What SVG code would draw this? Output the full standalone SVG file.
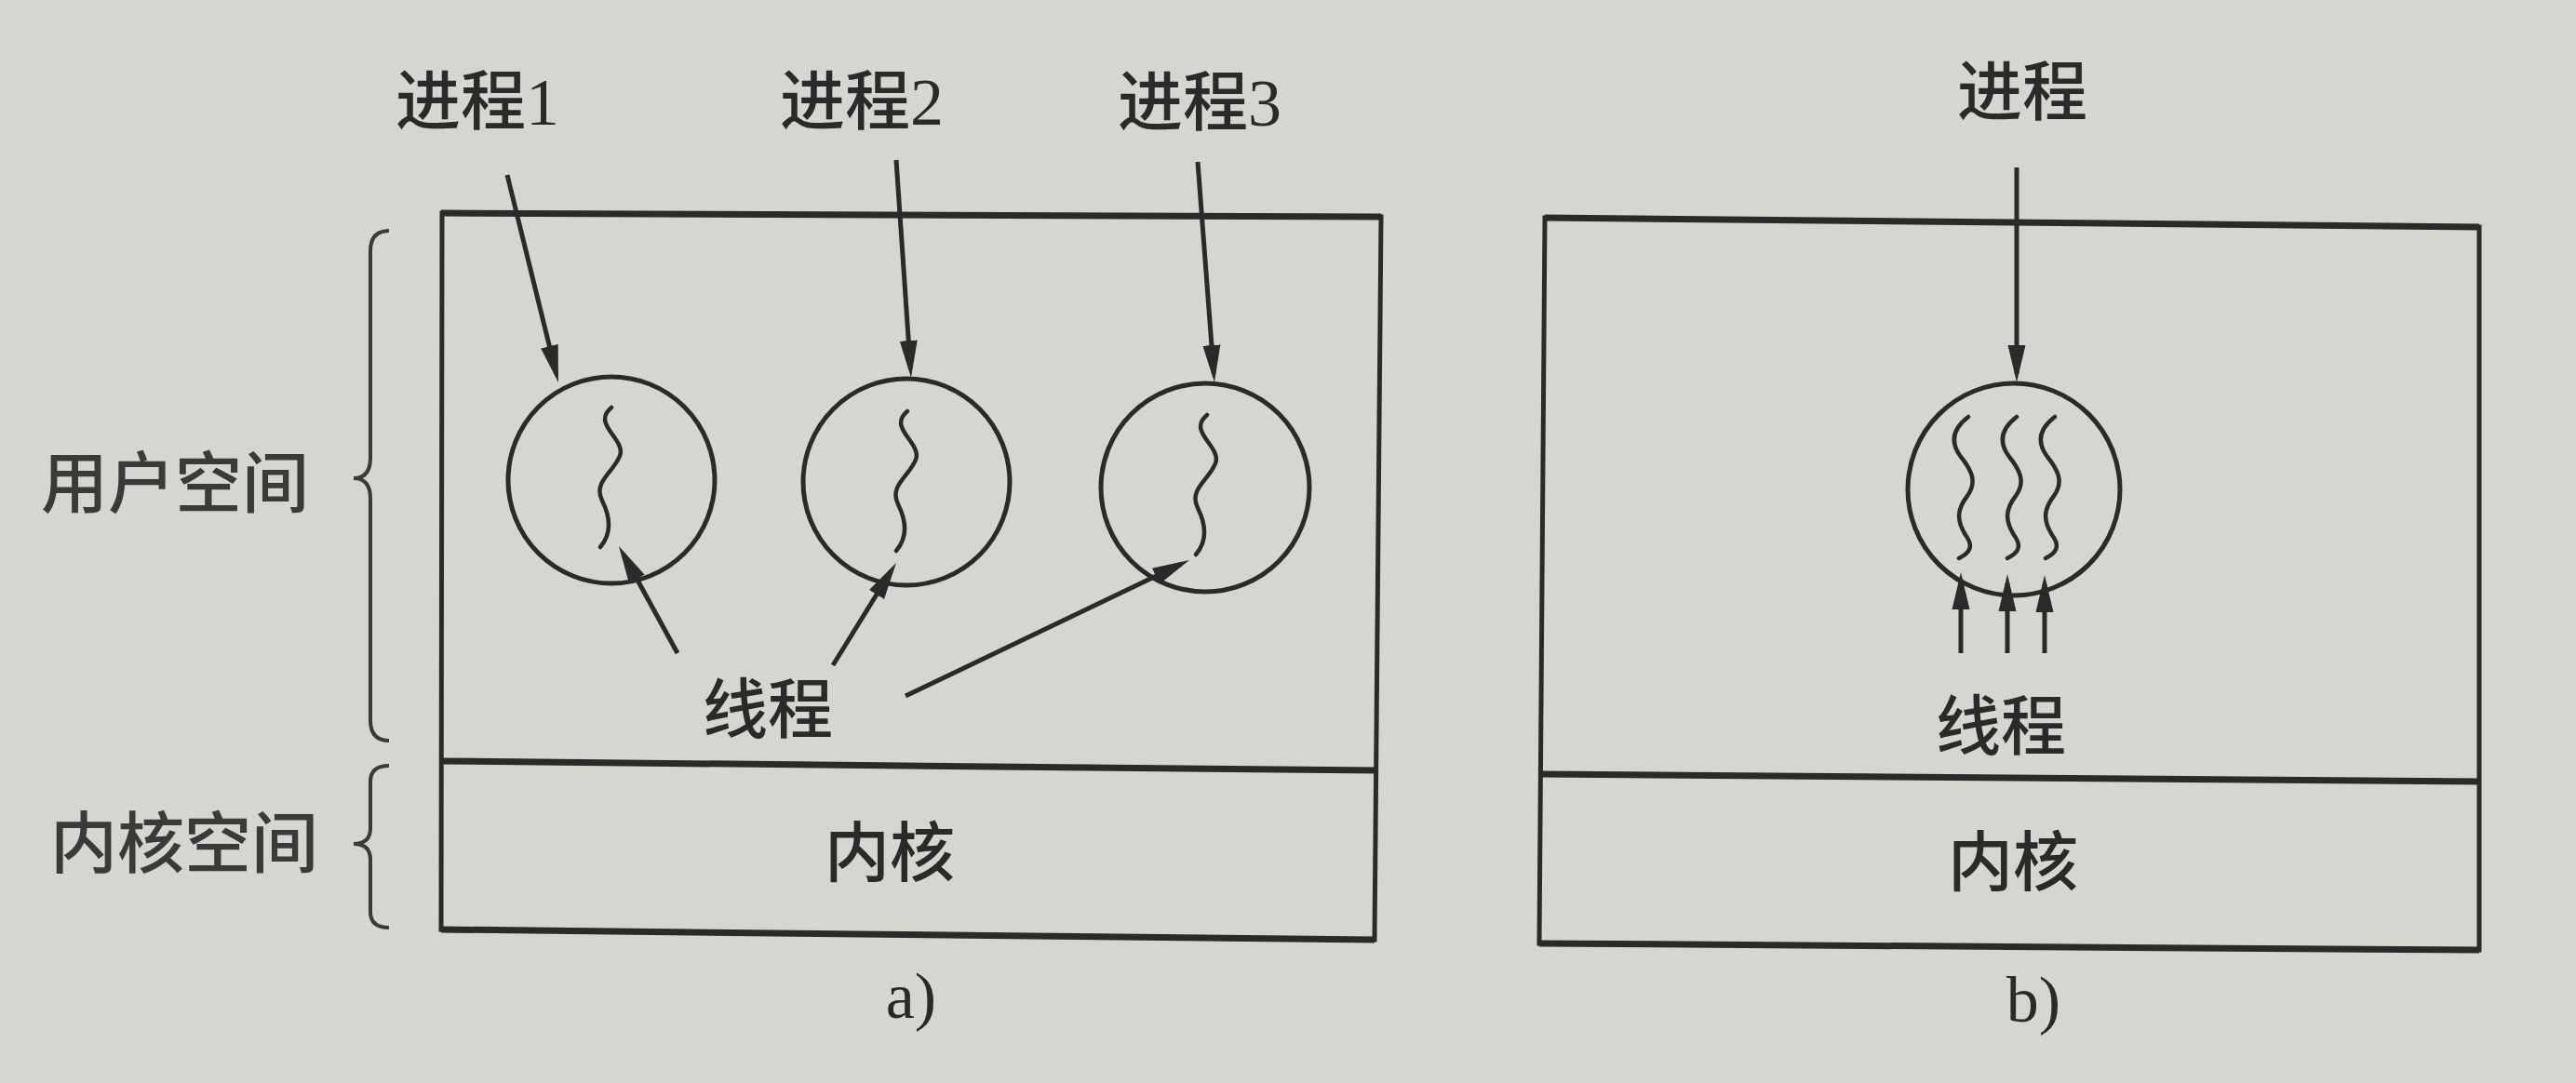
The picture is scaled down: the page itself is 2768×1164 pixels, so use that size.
<svg xmlns="http://www.w3.org/2000/svg" width="2768" height="1164" viewBox="0 0 2768 1164">
<style>
.bg{fill:#d7d5d0}
.box{fill:none;stroke:#2a2a2a;stroke-width:5;stroke-linejoin:miter}
.hline{fill:none;stroke:#2a2a2a;stroke-width:7}
.proc{fill:none;stroke:#2a2a2a;stroke-width:5}
.thread{fill:none;stroke:#2a2a2a;stroke-width:4.5;stroke-linecap:round}
.arrow{fill:none;stroke:#2a2a2a;stroke-width:5;marker-end:url(#ah)}
.brace{fill:none;stroke:#3a3a3a;stroke-width:4}
.cjk{font-family:"Noto Sans CJK SC","Noto Sans",sans-serif;fill:#2a2a2a;font-size:70px;font-weight:500}
.side{font-family:"Noto Sans CJK SC","Noto Sans",sans-serif;fill:#3a3a3a;font-size:72px;font-weight:500}
.num{font-family:"Liberation Serif",serif;font-weight:400}
.cap{font-family:"Liberation Serif",serif;fill:#2a2a2a;font-size:70px}
</style>
<defs>
<marker id="ah" markerUnits="userSpaceOnUse" markerWidth="44" markerHeight="22" refX="30" refY="10" orient="auto">
<path d="M0,0.5 L40,10 L0,19.5 Z" fill="#2a2a2a"/>
</marker>
<path id="thr" d="M 0,-78 C -22,-60 16,-44 9,-26 C 2,-8 -20,2 -10,22 C 0,42 0,58 -12,72"/>
<path id="thr2" d="M 0,-79 C -17,-66 -20,-52 -8,-36 C 5,-20 9,-8 -1,6 C -12,20 -13,32 -3,48 C 6,60 2,67 -10,73"/>
</defs>
<rect class="bg" x="0" y="0" width="2768" height="1164"/>

<g id="side-labels">
<path class="brace" d="M418,248 Q398,248 398,270 L398,492 Q398,514 380,514 Q398,514 398,536 L398,774 Q398,796 418,796"/>
<text class="side" x="44" y="545">用户空间</text>
<path class="brace" d="M418,823 Q398,823 398,840 L398,890 Q398,907 380,907 Q398,907 398,924 L398,980 Q398,997 418,997"/>
<text class="side" x="54" y="932">内核空间</text>
</g>

<g id="box-a">
<path class="box" d="M475,229 L1484,233 L1477,1010 L474,999 Z"/>
<path class="hline" d="M474,229 L1484,233"/>
<path class="hline" d="M474,818 L1479,828"/>
<path class="hline" d="M474,999 L1477,1010"/>
<text class="cjk" x="956" y="942" text-anchor="middle">内核</text>
<text class="cap" x="979" y="1094" text-anchor="middle">a)</text>
</g>

<g id="process1">
<circle class="proc" cx="657" cy="516" r="111"/>
<use class="thread" href="#thr" x="657" y="516"/>
<text class="cjk" x="425" y="134">进程<tspan class="num" font-size="72">1</tspan></text>
</g>
<g id="process2">
<circle class="proc" cx="974" cy="518" r="111"/>
<use class="thread" href="#thr" x="975" y="520"/>
<text class="cjk" x="838" y="134">进程<tspan class="num" font-size="72">2</tspan></text>
</g>
<g id="process3">
<circle class="proc" cx="1295" cy="524" r="112"/>
<use class="thread" href="#thr" x="1297" y="524"/>
<text class="cjk" x="1201" y="135">进程<tspan class="num" font-size="72">3</tspan></text>
</g>
<g id="threads-label-a">
<text class="cjk" x="825" y="788" text-anchor="middle">线程</text>
</g>

<g id="box-b">
<path class="box" d="M1660,234 L2664,244 L2664,1021 L1654,1014 Z"/>
<path class="hline" d="M1660,234 L2664,244"/>
<path class="hline" d="M1657,832 L2664,840"/>
<path class="hline" d="M1654,1014 L2664,1021"/>
<text class="cjk" x="2163" y="952" text-anchor="middle">内核</text>
<text class="cap" x="2185" y="1098" text-anchor="middle">b)</text>
</g>

<g id="process-b">
<circle class="proc" cx="2164" cy="526" r="114"/>
<use class="thread" href="#thr2" x="2115" y="527"/>
<use class="thread" href="#thr2" x="2167" y="527"/>
<use class="thread" href="#thr2" x="2208" y="527"/>
<text class="cjk" x="2173" y="124" text-anchor="middle">进程</text>
<text class="cjk" x="2150" y="806" text-anchor="middle">线程</text>
</g>

<g id="connectors">
<line class="arrow" x1="545" y1="188" x2="597.6" y2="401.3"/>
<line class="arrow" x1="963" y1="172" x2="978.3" y2="396"/>
<line class="arrow" x1="1287" y1="174" x2="1304.2" y2="401"/>
<line class="arrow" x1="2167" y1="180" x2="2167" y2="401"/>
<line class="arrow" x1="728" y1="702" x2="669.8" y2="595.8"/>
<line class="arrow" x1="895" y1="715" x2="957.7" y2="613.5"/>
<line class="arrow" x1="973" y1="748" x2="1269" y2="606.3"/>
<line class="arrow" x1="2107" y1="702" x2="2107" y2="625"/>
<line class="arrow" x1="2157" y1="702" x2="2157" y2="627"/>
<line class="arrow" x1="2197" y1="702" x2="2197" y2="628"/>
</g>
</svg>
